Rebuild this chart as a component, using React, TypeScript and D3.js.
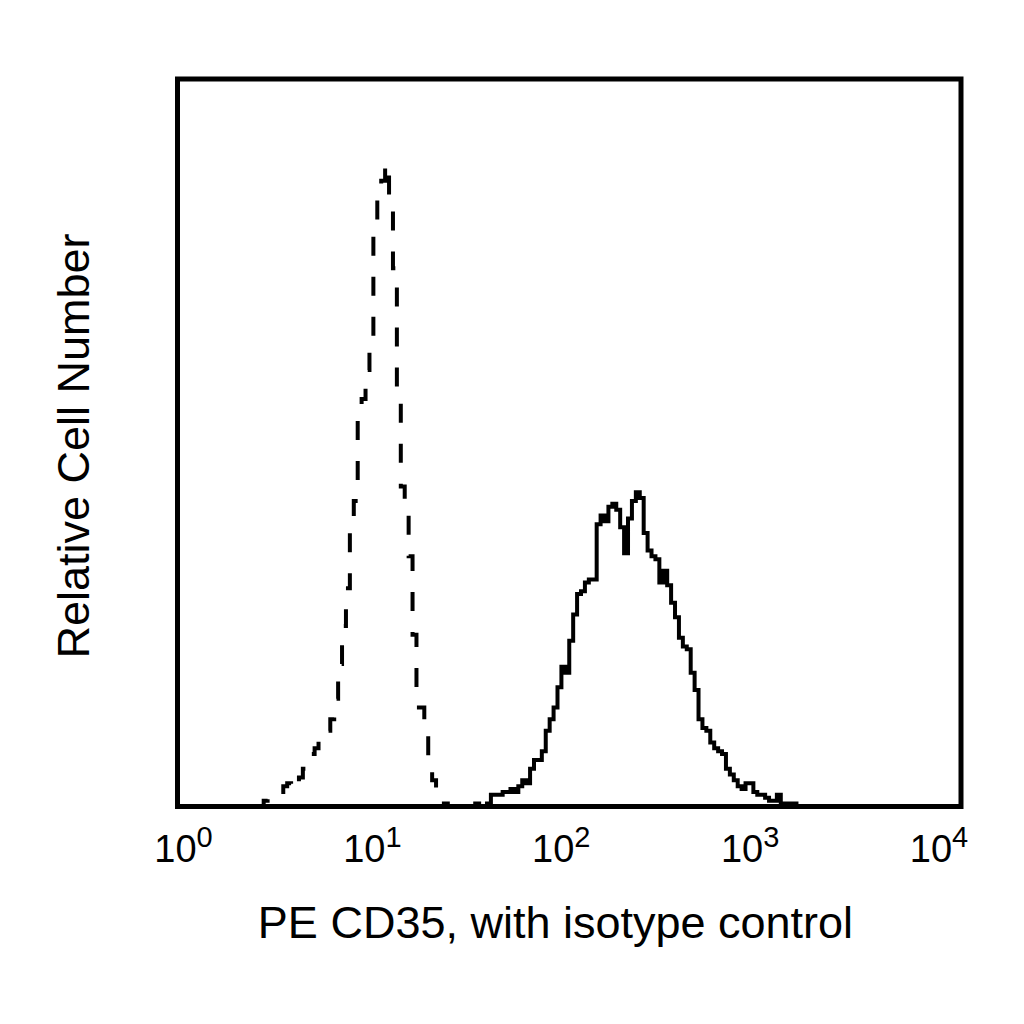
import * as d3 from 'd3';

// channels are 1/50 of a decade; each series starts at its own channel
const CHANNELS_PER_DECADE = 50;
const isotypeStart = 20;
const isotypeCounts = [
  0, 0, 2, 3, 3, 4, 5, 7, 8, 6, 8, 10, 13, 16, 18, 20, 24, 25, 26, 30, 37, 49, 62, 75, 98, 105, 136, 140, 150,
  160, 201, 209, 215, 221, 208, 185, 140, 110, 100, 86, 59, 34, 34, 30, 12, 9, 6, 0, 1, 0, 1, 0,
];
const cd35Start = 75;
const cd35Counts = [
  0, 1, 0, 0, 1, 4, 4, 4, 5, 5, 6, 5, 7, 9, 8, 13, 16, 16, 19, 26, 30, 34, 41, 48, 46, 57, 66, 73, 74, 77, 78,
  78, 97, 100, 98, 103, 104, 102, 96, 87, 99, 105, 108, 106, 94, 88, 86, 85, 77, 81, 76, 70, 65, 58, 55, 54, 46,
  40, 30, 27, 26, 22, 20, 19, 18, 13, 11, 9, 7, 6, 8, 8, 5, 4, 4, 3, 2, 2, 4, 1, 1, 1, 1, 0, 0,
];
const tickExponents = [0, 1, 2, 3, 4];
const xTitle = 'PE CD35, with isotype control';
const yTitle = 'Relative Cell Number';

const W = 1024;
const H = 1024;
const left = 177.5;
const right = 961;
const top = 79;
const bottom = 806.5;
const font = "'Liberation Sans', Arial, Helvetica, sans-serif";

const x = d3.scaleLog().domain([1, 1e4]).range([left, right]);
const y = d3.scaleLinear().domain([0, 250]).range([bottom, top]);
// tick labels sit on a slightly tighter spacing than the frame
const labelX = d3.scaleLinear().domain([0, 4]).range([183.5, 939]);

const toPoints = (start: number, counts: number[]) => {
  const pts = counts.map((c, i) => [Math.pow(10, (start + i) / CHANNELS_PER_DECADE), c] as [number, number]);
  pts.push([Math.pow(10, (start + counts.length) / CHANNELS_PER_DECADE), counts[counts.length - 1]]);
  return pts;
};

const line = d3
  .line<[number, number]>()
  .x((d) => x(d[0]))
  .y((d) => y(d[1]))
  .curve(d3.curveStepAfter);

export default function App() {
  return (
    <svg width={W} height={H} style={{ position: 'absolute', left: 0, top: 0, background: '#fff' }}>
      <rect x={0} y={0} width={W} height={H} fill="#fff" />
      <path
        d={line(toPoints(isotypeStart, isotypeCounts)) ?? ''}
        fill="none"
        stroke="#000"
        strokeWidth={4}
        strokeDasharray="19,21"
      />
      <path d={line(toPoints(cd35Start, cd35Counts)) ?? ''} fill="none" stroke="#000" strokeWidth={4} />
      <rect x={left} y={top} width={right - left} height={bottom - top} fill="none" stroke="#000" strokeWidth={5} />
      {tickExponents.map((e) => (
        <text key={e} x={labelX(e)} y={862} textAnchor="middle" fontFamily={font} fontSize={38} fill="#000">
          10
          <tspan fontSize={29} dy={-15}>
            {e}
          </tspan>
        </text>
      ))}
      <text x={555.5} y={938} textAnchor="middle" fontFamily={font} fontSize={45} fill="#000">
        {xTitle}
      </text>
      <text
        transform={`translate(89,446) rotate(-90)`}
        textAnchor="middle"
        fontFamily={font}
        fontSize={45}
        fill="#000"
      >
        {yTitle}
      </text>
    </svg>
  );
}
